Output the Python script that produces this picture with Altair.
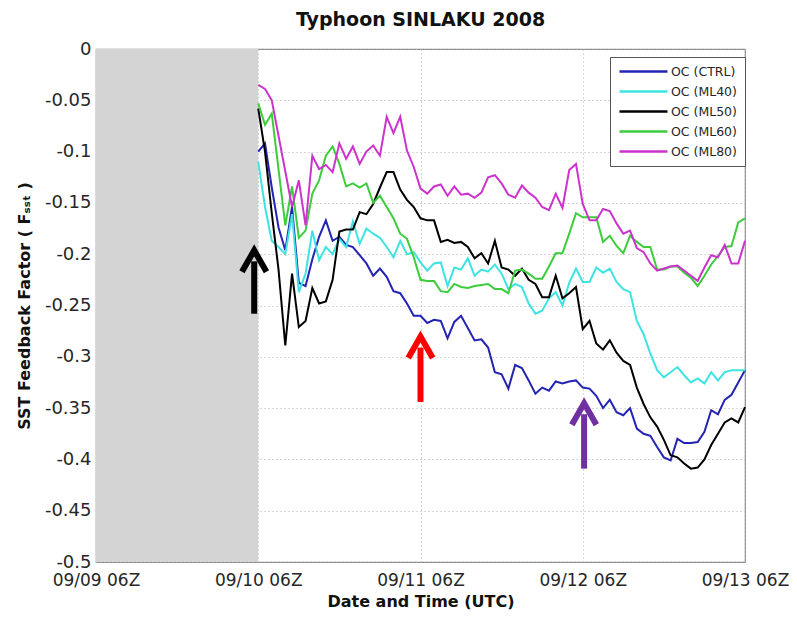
import altair as alt
import pandas as pd

# ---------------- data (hours since 09/09 06Z) ----------------
SERIES = ["OC (CTRL)", "OC (ML40)", "OC (ML50)", "OC (ML60)", "OC (ML80)"]
COLORS = ["#2323b4", "#3ee3e3", "#000000", "#3ccc3c", "#cc33cc"]

hourly = list(range(24, 97))

ctrl_hours = hourly
ctrl_vals = [-0.1, -0.092, -0.135, -0.174, -0.196, -0.154, -0.228, -0.231, -0.205, -0.183,
             -0.167, -0.187, -0.183, -0.191, -0.193, -0.201, -0.209, -0.221, -0.214, -0.222,
             -0.236, -0.238, -0.248, -0.26, -0.26, -0.267, -0.264, -0.265, -0.282, -0.266,
             -0.26, -0.272, -0.284, -0.283, -0.291, -0.315, -0.317, -0.331, -0.308, -0.311,
             -0.323, -0.336, -0.33, -0.333, -0.324, -0.326, -0.324, -0.323, -0.33, -0.331,
             -0.338, -0.35, -0.342, -0.354, -0.357, -0.35, -0.37, -0.375, -0.377, -0.388,
             -0.398, -0.401, -0.38, -0.384, -0.384, -0.383, -0.373, -0.352, -0.356, -0.342,
             -0.337, -0.325, -0.313]

ml40_hours = hourly
ml40_vals = [-0.11, -0.154, -0.187, -0.193, -0.2, -0.161, -0.237, -0.219, -0.177, -0.206,
             -0.193, -0.2, -0.185, -0.193, -0.168, -0.19, -0.175, -0.18, -0.184, -0.193,
             -0.203, -0.187, -0.2, -0.198, -0.208, -0.216, -0.209, -0.208, -0.231, -0.213,
             -0.215, -0.204, -0.221, -0.215, -0.217, -0.21, -0.219, -0.234, -0.229, -0.232,
             -0.248, -0.258, -0.255, -0.243, -0.237, -0.25, -0.228, -0.214, -0.227, -0.227,
             -0.213, -0.218, -0.214, -0.227, -0.234, -0.237, -0.265, -0.278, -0.297, -0.313,
             -0.32, -0.315, -0.31, -0.318, -0.325, -0.321, -0.326, -0.315, -0.323, -0.315,
             -0.313, -0.313, -0.313]

ml50_hours = hourly
ml50_vals = [-0.058, -0.1, -0.16, -0.215, -0.289, -0.219, -0.271, -0.265, -0.233, -0.248,
             -0.246, -0.225, -0.178, -0.176, -0.176, -0.159, -0.161, -0.151, -0.135, -0.12,
             -0.12, -0.137, -0.147, -0.154, -0.165, -0.167, -0.167, -0.188, -0.186, -0.189,
             -0.188, -0.193, -0.204, -0.199, -0.209, -0.187, -0.213, -0.215, -0.221, -0.214,
             -0.225, -0.229, -0.242, -0.242, -0.221, -0.243, -0.238, -0.232, -0.273, -0.265,
             -0.287, -0.293, -0.284, -0.296, -0.304, -0.308, -0.33, -0.346, -0.359, -0.368,
             -0.381, -0.396, -0.398, -0.404, -0.409, -0.408, -0.4, -0.386, -0.375, -0.364,
             -0.36, -0.364, -0.349]

ml60_hours = [24, 25, 26] + list(range(28, 97))
ml60_vals = [-0.053, -0.074, -0.063,
             -0.172, -0.134, -0.184, -0.177, -0.141, -0.128, -0.104, -0.095, -0.112, -0.134,
             -0.131, -0.135, -0.131, -0.15, -0.143, -0.154, -0.165, -0.18, -0.185, -0.203,
             -0.225, -0.226, -0.226, -0.236, -0.237, -0.229, -0.232, -0.233, -0.231, -0.23,
             -0.229, -0.234, -0.234, -0.238, -0.216, -0.215, -0.219, -0.224, -0.224, -0.212,
             -0.199, -0.199, -0.18, -0.16, -0.164, -0.164, -0.164, -0.188, -0.182, -0.192,
             -0.199, -0.182, -0.188, -0.193, -0.193, -0.215, -0.215, -0.212, -0.212, -0.218,
             -0.223, -0.231, -0.221, -0.21, -0.202, -0.193, -0.192, -0.169, -0.165]

ml80_hours = [24, 25, 26] + list(range(29, 97))
ml80_vals = [-0.035, -0.039, -0.05,
             -0.154, -0.128, -0.172, -0.104, -0.117, -0.113, -0.12, -0.092, -0.107, -0.095,
             -0.112, -0.1, -0.094, -0.104, -0.066, -0.082, -0.066, -0.099, -0.115, -0.136,
             -0.141, -0.134, -0.132, -0.143, -0.134, -0.142, -0.141, -0.145, -0.14, -0.125,
             -0.123, -0.131, -0.142, -0.145, -0.133, -0.14, -0.145, -0.154, -0.157, -0.141,
             -0.155, -0.118, -0.112, -0.151, -0.167, -0.167, -0.156, -0.158, -0.17, -0.18,
             -0.177, -0.194, -0.198, -0.209, -0.216, -0.214, -0.212, -0.211, -0.216, -0.221,
             -0.226, -0.213, -0.201, -0.203, -0.191, -0.209, -0.209, -0.187]

TICK_HOURS = [0, 24, 48, 72, 96]
TICK_LABELS = ["09/09 06Z", "09/10 06Z", "09/11 06Z", "09/12 06Z", "09/13 06Z"]
Y_TICKS = [0, -0.05, -0.1, -0.15, -0.2, -0.25, -0.3, -0.35, -0.4, -0.45, -0.5]

# gray "no data" band
band_start, band_end = 0, 24

# arrows: x (hour), tail value, head-centre value, colour
ARROW_X = [23.4, 48, 72.2]
ARROW_TAIL = [-0.258, -0.344, -0.409]
ARROW_HEAD = [-0.207, -0.291, -0.356]
ARROW_COLORS = ["#000000", "#ff0000", "#7030a0"]

# ---------------- build tables ----------------
rows = []
for name, hrs, vals in zip(SERIES,
                           [ctrl_hours, ml40_hours, ml50_hours, ml60_hours, ml80_hours],
                           [ctrl_vals, ml40_vals, ml50_vals, ml60_vals, ml80_vals]):
    for h, v in zip(hrs, vals):
        rows.append({"series": name, "hour": h, "value": v})
df = pd.DataFrame(rows)

arrows = pd.DataFrame({"x": ARROW_X, "tail": ARROW_TAIL, "head": ARROW_HEAD,
                       "color": ARROW_COLORS})
band = pd.DataFrame({"x": [band_start], "x2": [band_end], "y": [-0.5], "y2": [0]})

label_expr = " : ".join(
    [f"datum.value == {h} ? '{l}'" for h, l in zip(TICK_HOURS, TICK_LABELS)]) + " : ''"

FONT = "DejaVu Sans"
TXT = "#262626"

xscale = alt.Scale(domain=[0, 96], nice=False, zero=False)
yscale = alt.Scale(domain=[-0.5, 0], nice=False)

xaxis = alt.Axis(values=TICK_HOURS, labelExpr=label_expr, title="Date and Time (UTC)",
                 grid=True, gridDash=[1, 3], gridColor="#b0b0b0", ticks=False,
                 labelFontSize=17, labelColor=TXT, labelPadding=10, domain=False,
                 labelFlush=False, labelOverlap=False,
                 titleFontSize=16, titleFontWeight="bold", titleColor="#111",
                 titlePadding=5, labelFont=FONT, titleFont=FONT)
yaxis = alt.Axis(values=Y_TICKS, labelExpr="'' + datum.value",
                 title="SST Feedback Factor ( Fₛₛₜ )",
                 grid=True, gridDash=[1, 3], gridColor="#b0b0b0", ticks=False,
                 labelFontSize=18, labelColor=TXT, labelPadding=5, domain=False,
                 labelFlush=False, labelOverlap=False,
                 titleFontSize=16, titleFontWeight="bold", titleColor="#111",
                 titlePadding=12, labelFont=FONT, titleFont=FONT)

rect = alt.Chart(band).mark_rect(color="#d4d4d4").encode(
    x=alt.X("x:Q", scale=xscale, axis=xaxis), x2="x2:Q",
    y=alt.Y("y:Q", scale=yscale, axis=yaxis), y2="y2:Q")

lines = alt.Chart(df).mark_line(strokeWidth=2).encode(
    x=alt.X("hour:Q", scale=xscale),
    y=alt.Y("value:Q", scale=yscale),
    color=alt.Color("series:N", scale=alt.Scale(domain=SERIES, range=COLORS),
                    legend=alt.Legend(title=None, orient="none", legendX=514, legendY=8,
                                      symbolType="M-1,0H8.6", symbolSize=100,
                                      symbolStrokeWidth=2.5, labelFontSize=12.5,
                                      labelFont=FONT, labelColor=TXT,
                                      strokeColor="#555", fillColor="white",
                                      padding=8, rowPadding=7, labelOffset=40)),
    detail="series:N")

shafts = alt.Chart(arrows).mark_rule(strokeWidth=6).encode(
    x=alt.X("x:Q", scale=xscale), y=alt.Y("tail:Q", scale=yscale), y2="head:Q",
    color=alt.Color("color:N", scale=None, legend=None))

heads = alt.Chart(arrows).mark_point(
    shape="M-1,0.85L0,-0.9L1,0.85", filled=False, size=600, strokeWidth=6,
    opacity=1, strokeJoin="miter").encode(
    x=alt.X("x:Q", scale=xscale), y=alt.Y("head:Q", scale=yscale),
    color=alt.Color("color:N", scale=None, legend=None))

chart = alt.layer(rect, lines, shafts, heads).properties(
    width=649, height=513,
    title=alt.TitleParams("Typhoon SINLAKU 2008", fontSize=19, fontWeight="bold",
                          font=FONT, color="#111", offset=10),
    autosize=alt.AutoSizeParams(type="none"),
    padding={"left": 88, "top": 41, "right": 44, "bottom": 51},
).configure_view(stroke="#888888", strokeWidth=1.2)

chart.save("out.html", embed_options={"renderer": "svg", "actions": False})
